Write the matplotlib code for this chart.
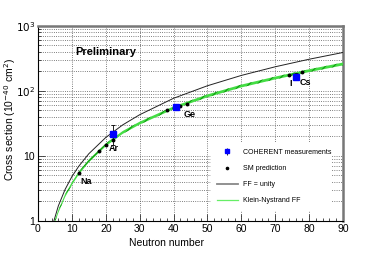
import matplotlib
matplotlib.use("Agg")
import matplotlib.pyplot as plt
from matplotlib.lines import Line2D
import numpy as np

plt.rcParams['font.family'] = ['Liberation Sans', 'DejaVu Sans']
plt.rcParams['hatch.linewidth'] = 0.8

# curves
n_curve = [4.7, 6, 8, 10, 12, 15, 20, 25, 30, 40, 50, 60, 70, 80, 90]
ff_unity = [1.0, 1.7, 3.05, 4.8, 6.9, 10.8, 19.2, 30, 43, 77, 120, 173, 235, 307, 390]
n_kn = [5.0, 6, 8, 10, 12, 15, 20, 25, 30, 40, 50, 60, 70, 80, 90]
klein_nystrand = [1.0, 1.4, 2.45, 3.75, 5.4, 8.4, 14.8, 23, 32, 55, 84, 119, 158, 205, 260]

# SM predictions for isotopes
sm_n = [12, 18, 20, 22, 38, 40, 41, 42, 44, 74, 78]
sm_xs = [5.4, 11.8, 14.6, 17.6, 50, 55, 57, 59.5, 64, 176, 194]

# COHERENT measurements
meas_n = [22, 40.7, 76]
meas_xs = [22, 57, 166]
meas_err = [7.5, 7, 21]

labels = ["Na", "Ar", "Ge", "I", "Cs"]
label_pos = [(12.5, 3.98), (21.0, 12.8), (42.9, 42.7), (74.2, 128), (77.1, 137)]

fig = plt.figure(figsize=(3.81, 2.59), dpi=100)
ax = fig.add_axes([0.0997, 0.147, 0.8005, 0.753])

ax.set_yscale('log')
ax.set_xlim(0, 90)
ax.set_ylim(1, 1000)

# grid
ax.grid(True, which='major', axis='x', ls=':', color='#555555', lw=0.6)
ax.grid(True, which='both', axis='y', ls=':', color='#555555', lw=0.6)
ax.set_axisbelow(True)

ax.plot(n_curve, ff_unity, color='#222222', lw=0.7, zorder=3)
kn = np.array(klein_nystrand)
ax.fill_between(n_kn, kn * 0.95, kn * 1.05, facecolor='#44dd44',
                edgecolor='#119911', hatch='////', lw=0, zorder=3)

ax.plot(sm_n, sm_xs, 'o', color='black', ms=1.8, zorder=5)
ax.errorbar(meas_n, meas_xs, yerr=meas_err, fmt='s', color='#0000ff',
            ms=4, ecolor='black', elinewidth=0.6, capsize=1.2, capthick=0.6,
            zorder=6)

for lab, (x, y) in zip(labels, label_pos):
    ax.text(x, y, lab, fontsize=6.5, fontweight='bold', va='center', ha='left',
            zorder=7)
ax.text(11.0, 391, "Preliminary", fontsize=8, fontweight='bold', va='center',
        ha='left')

# legend
h_meas = ax.errorbar([], [], yerr=[], fmt='s', color='#0000ff', ms=3,
                     ecolor='black', elinewidth=0.6, capsize=1.2)
h_sm = Line2D([], [], ls='none', marker='o', color='black', ms=1.6)
h_ff = Line2D([], [], color='#888888', lw=1.3)
h_kn = Line2D([], [], color='#66ee66', lw=0.9)
leg = ax.legend([h_meas, h_sm, h_ff, h_kn],
                ["COHERENT measurements", "SM prediction", "FF = unity",
                 "Klein-Nystrand FF"],
                loc='lower left', bbox_to_anchor=(0.555, 0.035, 0.42, 0.39),
                mode='expand', fontsize=5, frameon=True, fancybox=False,
                edgecolor='none', facecolor='white', framealpha=1,
                handlelength=3.0, handletextpad=0.7, labelspacing=1.32,
                borderpad=0.9)
leg.set_zorder(8)

# ticks and frame
ax.set_xticks(np.arange(0, 91, 10))
ax.set_xticks(np.arange(0, 91, 2), minor=True)
ax.set_yticks([1, 10, 100, 1000])
ax.set_yticklabels(["1", "10", r"$10^{2}$", r"$10^{3}$"])
ax.tick_params(which='both', direction='in', labelsize=7.5, color='#333333')
ax.tick_params(which='major', length=5, width=0.6)
ax.tick_params(which='minor', length=2.5, width=0.6)
ax.tick_params(axis='x', pad=2)
ax.tick_params(axis='y', pad=2)
for s in ['left', 'bottom']:
    ax.spines[s].set_linewidth(0.8)
for s in ['top', 'right']:
    ax.spines[s].set_color('#777777')
    ax.spines[s].set_linewidth(1.8)

ax.set_xlabel("Neutron number", fontsize=7.5, labelpad=1)
ax.xaxis.set_label_coords(0.42, -0.085)
ax.set_ylabel(r"Cross section (10$^{-40}$ cm$^{2}$)", fontsize=7.5, labelpad=1)
ax.yaxis.set_label_coords(-0.066, 0.52)

fig.savefig("out.png", dpi=100)
